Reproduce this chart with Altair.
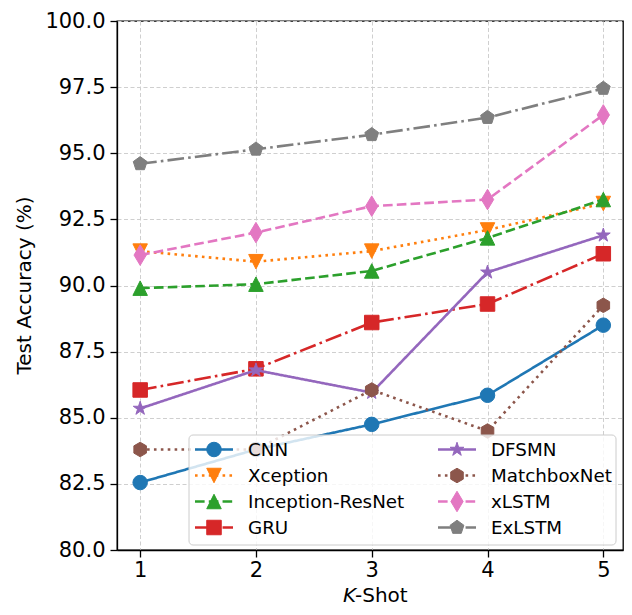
import math
import altair as alt
import pandas as pd

# ---------------- data ----------------
k_shot = [1, 2, 3, 4, 5]
models = ["CNN", "Xception", "Inception-ResNet", "GRU",
          "DFSMN", "MatchboxNet", "xLSTM", "ExLSTM"]
cnn = [82.55, 83.8, 84.75, 85.85, 88.5]
xception = [91.3, 90.9, 91.3, 92.1, 93.1]
inception_resnet = [89.9, 90.05, 90.55, 91.8, 93.25]
gru = [86.05, 86.85, 88.6, 89.3, 91.2]
dfsmn = [85.35, 86.8, 85.95, 90.5, 91.9]
matchboxnet = [83.8, 83.8, 86.05, 84.5, 89.25]
xlstm = [91.15, 92.0, 93.0, 93.25, 96.45]
exlstm = [94.6, 95.15, 95.7, 96.35, 97.45]
series_values = [cnn, xception, inception_resnet, gru, dfsmn, matchboxnet, xlstm, exlstm]
y_ticks = [80.0, 82.5, 85.0, 87.5, 90.0, 92.5, 95.0, 97.5, 100.0]

# ---------------- styles ----------------
colors = ["#1f77b4", "#ff7f0e", "#2ca02c", "#d62728",
          "#9467bd", "#8c564b", "#e377c2", "#7f7f7f"]
LW = 2.6
dash_styles = {
    "solid": [1, 0],
    "dotted": [1 * LW, 1.65 * LW],
    "dashed": [3.7 * LW, 1.6 * LW],
    "dashdot": [6.4 * LW, 1.6 * LW, 1 * LW, 1.6 * LW],
}
line_styles = ["solid", "dotted", "dashed", "dashdot",
               "solid", "dotted", "dashed", "dashdot"]


def poly_path(n, radii, start=-90.0):
    pts = []
    for i in range(n):
        a = math.radians(start + 360.0 * i / n)
        r = radii[i % len(radii)]
        pts.append((r * math.cos(a), r * math.sin(a)))
    return "M" + "L".join(f"{x:.4f},{y:.4f}" for x, y in pts) + "Z"


tri_down = "M0,1L1,-1L-1,-1Z"
tri_up = "M0,-1L1,1L-1,1Z"
star = poly_path(10, [1.0, 0.381966])
hexagon = poly_path(6, [1.0])
pentagon = poly_path(5, [1.0])
thin_diamond = "M0,-1.414L0.849,0L0,1.414L-0.849,0Z"
shapes = ["circle", tri_down, tri_up, "square", star, hexagon, thin_diamond, pentagon]
MS = 14.5
sizes = [MS * MS] * 8

W, H = 506, 529
TICK_FS = 21
TITLE_FS = 20
LEG_FS = 18.3

x_scale = alt.Scale(domain=[0.8, 5.17], nice=False, zero=False)
y_scale = alt.Scale(domain=[80, 100], nice=False, zero=False)

layers = []
for name, vals, col, ls, shp, sz in zip(models, series_values, colors, line_styles, shapes, sizes):
    df = pd.DataFrame({"k": k_shot, "acc": vals, "model": name})
    base = alt.Chart(df)
    line = base.mark_line(color=col, strokeWidth=LW, strokeDash=dash_styles[ls]).encode(
        x=alt.X("k:Q", scale=x_scale,
                axis=alt.Axis(values=k_shot, format="d", title=None, labelFontSize=TICK_FS,
                              grid=True, labelPadding=2)),
        y=alt.Y("acc:Q", scale=y_scale,
                axis=alt.Axis(values=y_ticks, format=".1f", title=None, labelFontSize=TICK_FS,
                              grid=True, labelPadding=5)),
    )
    pts = base.mark_point(shape=shp, filled=True, size=sz, color=col, stroke=col,
                          strokeWidth=1, opacity=1).encode(
        x=alt.X("k:Q", scale=x_scale), y=alt.Y("acc:Q", scale=y_scale))
    layers += [line, pts]

# ---------------- custom legend (line + marker handles) ----------------
one = pd.DataFrame({"d": [0]})
box_x0, box_y0, box_x1, box_y1 = 72, 414, 499, 524
layers.append(
    alt.Chart(one).mark_rect(fill="white", fillOpacity=0.8, stroke="#cccccc",
                             strokeWidth=1, cornerRadius=4).encode(
        x=alt.value(box_x0), x2=alt.value(box_x1),
        y=alt.value(box_y0), y2=alt.value(box_y1))
)
row_h = 26
for i, (name, col, ls, shp, sz) in enumerate(zip(models, colors, line_styles, shapes, sizes)):
    c, r = divmod(i, 4)
    cx = 78 + c * 243
    cy = 428.5 + r * row_h
    layers.append(alt.Chart(one).mark_rule(color=col, strokeWidth=LW,
                                           strokeDash=dash_styles[ls]).encode(
        x=alt.value(cx), x2=alt.value(cx + 38), y=alt.value(cy)))
    layers.append(alt.Chart(one).mark_point(shape=shp, filled=True, size=sz, color=col,
                                            stroke=col, strokeWidth=1, opacity=1).encode(
        x=alt.value(cx + 19), y=alt.value(cy)))
    layers.append(alt.Chart(one).mark_text(text=name, align="left", baseline="middle",
                                           fontSize=LEG_FS, color="black").encode(
        x=alt.value(cx + 53), y=alt.value(cy + 1)))

# ---------------- axis titles ----------------
layers.append(alt.Chart(one).mark_text(text="Test Accuracy (%)", angle=270, fontSize=TITLE_FS,
                                       align="center", baseline="alphabetic", color="black").encode(
    x=alt.value(-86), y=alt.value(H / 2)))
layers.append(alt.Chart(one).mark_text(text="K", fontStyle="italic", fontSize=TITLE_FS,
                                       align="right", baseline="alphabetic", color="black").encode(
    x=alt.value(239), y=alt.value(H + 52)))
layers.append(alt.Chart(one).mark_text(text="-Shot", fontSize=TITLE_FS,
                                       align="left", baseline="alphabetic", color="black").encode(
    x=alt.value(238), y=alt.value(H + 52)))

chart = alt.layer(*layers).properties(
    width=W, height=H,
    autosize=alt.AutoSizeParams(type="none"),
    padding={"left": 109, "top": 13, "right": 1, "bottom": 57},
).configure(
    font="DejaVu Sans",
).configure_view(
    stroke="black", strokeWidth=1.3,
).configure_axis(
    labelFont="DejaVu Sans", labelColor="black",
    domainColor="black", domainWidth=1.3,
    tickColor="black", tickWidth=1.3, tickSize=7,
    gridColor="#cfcfcf", gridDash=[4, 2.5], gridWidth=1,
)

chart.save("out.html", embed_options={"renderer": "svg", "actions": False})
